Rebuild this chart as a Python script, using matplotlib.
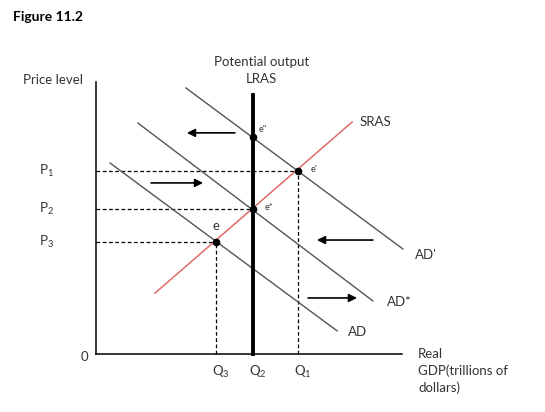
import matplotlib
matplotlib.use('Agg')
import matplotlib.pyplot as plt

plt.rcParams['font.family'] = ['Lato', 'DejaVu Sans']
plt.rcParams['mathtext.default'] = 'regular'

# Equilibrium quantities and price levels
q_labels = ['Q$_3$', 'Q$_2$', 'Q$_1$']
q_values = [3.92, 5.13, 6.60]
p_labels = ['P$_1$', 'P$_2$', 'P$_3$']
p_values = [6.73, 5.33, 4.12]

# Curves (endpoints)
lras_x = [5.13, 5.13]
lras_y = [0.0, 9.52]
sras_x = [1.93, 8.37]
sras_y = [2.24, 8.53]
ad_x = [0.46, 7.88]
ad_y = [7.02, 0.85]
ad_star_x = [1.37, 9.05]
ad_star_y = [8.49, 1.95]
ad_prime_x = [2.94, 10.03]
ad_prime_y = [9.78, 3.86]

# Equilibrium points
pt_names = ['e', 'e*', "e'", 'e"']
pt_x = [3.92, 5.13, 6.60, 5.13]
pt_y = [4.12, 5.33, 6.73, 7.98]

# Shift arrows (start x, end x, y)
arrow_x0 = [4.54, 1.80, 9.05, 6.93]
arrow_x1 = [2.97, 3.50, 7.22, 8.53]
arrow_y = [8.13, 6.29, 4.19, 2.06]

fig = plt.figure(figsize=(5.45, 4.12), dpi=100)
ax = fig.add_axes([0, 0, 1, 1])
ax.set_xlim(-96 / 30.6, (545 - 96) / 30.6)
ax.set_ylim(-58 / 27.2, 354 / 27.2)
ax.axis('off')

txt = '#333333'
fs = 9.5

# axes
ax.plot([0, 0], [0, 10], color='black', lw=1.1)
ax.plot([0, 10], [0, 0], color='black', lw=1.1)

# dashed guides
for q, p in zip([q_values[2], q_values[1], q_values[0]], p_values):
    ax.plot([0, q], [p, p], color='black', lw=0.9, ls=(0, (3, 2)))
for q, p in zip([q_values[0], q_values[2]], [p_values[2], p_values[0]]):
    ax.plot([q, q], [0, p], color='black', lw=0.9, ls=(0, (3, 2)))

# curves
ax.plot(ad_x, ad_y, color='#555555', lw=1.0)
ax.plot(ad_star_x, ad_star_y, color='#555555', lw=1.0)
ax.plot(ad_prime_x, ad_prime_y, color='#555555', lw=1.0)
ax.plot(sras_x, sras_y, color='#e06a6a', lw=1.1)
ax.plot(lras_x, lras_y, color='black', lw=2.8)

ax.plot(pt_x, pt_y, 'o', color='black', ms=4.5)

for x0, x1, y in zip(arrow_x0, arrow_x1, arrow_y):
    ax.annotate('', xy=(x1, y), xytext=(x0, y),
                arrowprops=dict(arrowstyle='-|>', color='black', lw=1.2,
                                mutation_scale=12, shrinkA=0, shrinkB=0))

# point labels
ax.text(3.92, 4.50, pt_names[0], fontsize=fs, color=txt, ha='center', va='bottom')
ax.text(5.50, 5.38, pt_names[1], fontsize=6.5, color=txt, ha='left', va='center')
ax.text(7.00, 6.78, pt_names[2], fontsize=6.5, color=txt, ha='left', va='center')
ax.text(5.30, 8.25, pt_names[3], fontsize=6.5, color=txt, ha='left', va='center')

# curve labels
ax.text(8.62, 8.53, 'SRAS', fontsize=fs, color=txt, ha='left', va='center')
ax.text(10.43, 3.63, "AD'", fontsize=fs, color=txt, ha='left', va='center')
ax.text(9.50, 1.90, 'AD*', fontsize=fs, color=txt, ha='left', va='center')
ax.text(8.24, 0.82, 'AD', fontsize=fs, color=txt, ha='left', va='center')
ax.text(5.42, 10.74, 'Potential output', fontsize=fs, color=txt, ha='center', va='center')
ax.text(5.42, 10.11, 'LRAS', fontsize=fs, color=txt, ha='center', va='center')

# axis labels
ax.text(-1.41, 10.07, 'Price level', fontsize=fs, color=txt, ha='center', va='center')
ax.text(10.52, -0.62, 'Real\nGDP(trillions of\ndollars)', fontsize=fs, color=txt,
        ha='left', va='center', linespacing=1.45)
ax.text(-0.39, -0.11, '0', fontsize=fs, color=txt, ha='center', va='center')

for lab, p in zip(p_labels, p_values):
    ax.text(-1.62, p, lab, fontsize=fs, color=txt, ha='center', va='center')
for lab, q in zip(q_labels, q_values):
    ax.text(q + 0.15, -0.66, lab, fontsize=fs, color=txt, ha='center', va='center')

fig.text(13 / 545, 1 - 17 / 412, 'Figure 11.2', fontsize=10, fontweight='bold',
         color='black', ha='left', va='center')

fig.savefig('out.png', dpi=100)
